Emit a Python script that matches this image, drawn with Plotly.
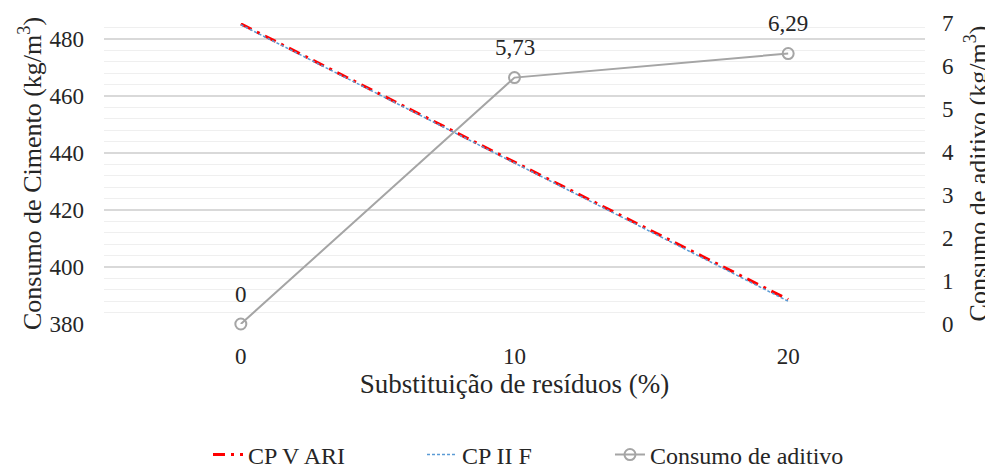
import plotly.graph_objects as go

categories = [0, 10, 20]
cp_v_ari = [485.3, 436.8, 388.6]
cp_ii_f = [485.0, 436.5, 388.0]
aditivo = [0, 5.73, 6.29]
aditivo_labels = ["0", "5,73", "6,29"]
left_ticks = [380, 400, 420, 440, 460, 480]
right_ticks = [0, 1, 2, 3, 4, 5, 6, 7]

FONT = "Liberation Serif"
TXT = "#262626"

fig = go.Figure()
fig.add_trace(go.Scatter(
    x=categories, y=cp_v_ari, name="CP V ARI", mode="lines",
    line=dict(color="#FF0000", width=3, dash="12px,6px,3px,6px"),
    legend="legend",
))
fig.add_trace(go.Scatter(
    x=categories, y=cp_ii_f, name="CP II F", mode="lines",
    line=dict(color="#5B9BD5", width=1.5, dash="3px,2px"),
    legend="legend2",
))
fig.add_trace(go.Scatter(
    x=categories, y=aditivo, name="Consumo de aditivo", mode="lines+markers",
    yaxis="y2",
    line=dict(color="#A5A5A5", width=2),
    marker=dict(symbol="circle-open", size=11, color="#A5A5A5", line=dict(width=2)),
    cliponaxis=False,
    legend="legend3",
))

for xv, yv, lab in zip(categories, aditivo, aditivo_labels):
    fig.add_annotation(
        x=xv, y=yv, xref="x", yref="y2", text=lab, showarrow=False,
        yshift=30, font=dict(family=FONT, size=23, color=TXT),
    )

leg_common = dict(orientation="h", xanchor="left", y=-0.435, yanchor="middle",
                  font=dict(family=FONT, size=24, color=TXT),
                  bgcolor="rgba(0,0,0,0)")

# page body has an 8px margin: figure is offset by (8, 8) in the window
fig.update_layout(
    width=985, height=462,
    margin=dict(l=96, r=68, t=15, b=146, autoexpand=False),
    paper_bgcolor="white", plot_bgcolor="white",
    font=dict(family=FONT, size=23, color=TXT),
    showlegend=True,
    legend=dict(x=0.1267, **leg_common),
    legend2=dict(x=0.3873, **leg_common),
    legend3=dict(x=0.6163, **leg_common),
    xaxis=dict(
        range=[-5, 25], tickvals=categories, ticktext=[str(c) for c in categories],
        showgrid=False, zeroline=False, showline=False, ticks="",
        ticklabelstandoff=16,
        title=dict(text="Substituição de resíduos (%)", font=dict(size=27), standoff=5),
        tickfont=dict(size=23),
    ),
    yaxis=dict(
        range=[380, 485.6], tickvals=left_ticks,
        showgrid=True, gridcolor="#D9D9D9", gridwidth=1.5,
        zeroline=False, showline=False, ticks="",
        ticklabelstandoff=19,
        minor=dict(dtick=4, tick0=380, showgrid=True, gridcolor="#EFEFEF", gridwidth=1),
        title=dict(text="Consumo de Cimento (kg/m<sup>3</sup>)", font=dict(size=26), standoff=0),
        tickfont=dict(size=23),
    ),
    yaxis2=dict(
        range=[0, 7], tickvals=right_ticks, overlaying="y", side="right",
        showgrid=False, zeroline=False, showline=False, ticks="",
        ticklabelstandoff=16,
        title=dict(text="Consumo de aditivo (kg/m<sup>3</sup>)", font=dict(size=26), standoff=18),
        tickfont=dict(size=23),
    ),
)

fig.write_html("out.html")
